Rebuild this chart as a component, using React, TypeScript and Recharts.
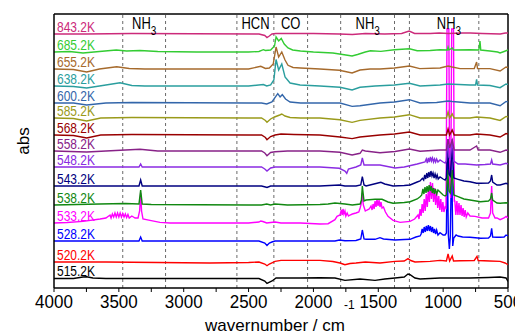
import React from "react";
import {
  LineChart,
  Line,
  XAxis,
  YAxis,
  ReferenceLine,
  ReferenceDot,
  Label,
} from "recharts";

// [wavenumber, offset from trace baseline]
const t843: [number, number][] = [
  [4000, 0], [3750, 0], [3400, 0.5], [2420, 0], [2375, -1.5], [2358, -3.5], [2340, -2], [2320, 0], [2290, 0.5],
  [2000, 0.5], [1800, 0], [1700, -0.5], [1600, 0.5], [1450, 0], [1320, 0.5], [1262, 3], [1220, 0.5], [1100, 0.5],
  [1030, 1], [960, 0.5], [850, 1], [790, 1], [700, 0.5], [560, 0], [520, 1], [500, 1],
];
const t685: [number, number][] = [
  [4000, 0], [3880, 0.5], [3776, -1], [3650, 0.5], [3520, 2], [3440, 1], [3337, 1.5], [3200, 0.5], [2900, 0],
  [2500, 0], [2420, 0.5], [2386, 2.3], [2370, 1.5], [2330, 2], [2300, 6], [2288, 15], [2268, 11], [2248, 13.5],
  [2225, 8], [2196, 4], [2160, 2], [2100, 1], [2000, 0], [1850, -1], [1750, -3], [1702, -4], [1660, -2.5],
  [1600, 0], [1560, 1.2], [1480, 0.6], [1375, 2.2], [1260, 3.3], [1200, 1.2], [1100, 1.5], [1024, 2.3],
  [968, 2], [962, 5], [955, 2], [930, 4], [920, 2], [793, 2.3], [725, 2], [716, 11], [710, 2], [639, 1],
  [580, 0], [561, -1], [530, 0.5], [500, 2],
];
const t655: [number, number][] = [
  [4000, 0], [3850, -0.5], [3748, -3], [3650, 0], [3517, 2.3], [3420, 0.5], [3300, 0], [2500, 0], [2406, 2.7],
  [2370, 0.5], [2340, 1], [2310, 5], [2288, 22], [2268, 12], [2244, 17], [2219, 9], [2196, 3.7], [2157, 1.5],
  [2100, 1], [1950, 0], [1800, -1.3], [1702, -4], [1641, -1], [1564, 0], [1487, 0], [1375, 1], [1260, 3],
  [1180, 0.4], [1024, 1], [962, 3], [930, 2], [870, 0.4], [760, 0.5], [742, 7], [735, 0.5], [639, 0.4],
  [561, -2], [515, 2], [500, 1.5],
];
const t638: [number, number][] = [
  [4000, 0], [3850, -0.5], [3748, -2], [3600, 1], [3491, 3.3], [3400, 0.5], [3300, 0], [2500, 0], [2386, 1.5],
  [2360, 0], [2330, 1], [2305, 6], [2288, 26.5], [2268, 16], [2244, 22], [2219, 9], [2180, 3], [2103, 1],
  [1950, 0], [1795, -1.3], [1702, -4], [1641, -1.3], [1525, 0], [1375, 1], [1260, 2.7], [1178, 0], [1024, 1],
  [962, 2], [793, 1], [750, 1], [742, 6.6], [735, 1], [639, 0.5], [561, -1.7], [515, 2], [500, 1.5],
];
const t600: [number, number][] = [
  [4000, 0], [3850, 0], [3748, -2], [3600, 0], [3400, 0.5], [2500, 0], [2400, 0], [2360, -1], [2320, 1],
  [2275, 9.3], [2257, 6], [2240, 8.3], [2215, 4], [2180, 1], [2100, 0], [1950, 0], [1795, 0], [1702, -3.4],
  [1641, -2.7], [1487, 0], [1375, 1], [1260, 3.3], [1178, 0], [1050, 0.5], [962, 2], [930, 1.5], [793, 0],
  [639, 0], [561, -2.7], [515, 1.6], [500, 1],
];
const t585: [number, number][] = [
  [4000, 0], [3850, -0.5], [3748, -3], [3640, 0], [3400, 0.5], [2500, 0], [2400, 0], [2370, -2.5], [2358, -4.3],
  [2330, -1], [2300, 1], [2260, 3], [2244, 4], [2219, 2], [2180, 0.5], [2100, 0], [1950, 0], [1795, -1.7],
  [1702, -4.4], [1641, -2.4], [1487, 0], [1375, 1], [1260, 3.3], [1178, 0], [975, 0], [962, 6], [950, 0],
  [930, 4], [915, 0], [793, 0], [742, 1], [639, 0], [561, -2.4], [515, 1.6], [500, 1],
];
const t568: [number, number][] = [
  [4000, 0], [3850, -0.5], [3748, -3], [3640, 0], [3400, 0.5], [2500, 0], [2400, 0], [2370, -2.5], [2358, -4.7],
  [2330, -1.5], [2296, 0], [2250, 1], [2150, 0.5], [1950, 0], [1795, -2], [1702, -3.6], [1641, -2], [1487, 0],
  [1375, 1], [1260, 3], [1178, 0], [975, 0], [962, 6], [950, 0], [930, 5], [915, 0], [793, 0], [742, 1],
  [639, 0], [561, -2], [515, 1.4], [500, 1],
];
const t558: [number, number][] = [
  [4000, 0], [3748, -1], [3600, 0], [3337, 1.7], [3200, 0], [2500, 0], [2400, 0], [2375, -2], [2358, -4.7],
  [2330, -1.5], [2296, -0.7], [2200, 0], [1950, 0], [1795, -1.3], [1702, -4], [1641, -2.3], [1623, 1],
  [1600, 0], [1487, -1.7], [1371, -0.5], [1260, 2], [1178, -0.3], [1024, 1], [975, 1], [962, 12], [950, 3],
  [930, 11], [915, 1], [793, 1], [742, 5], [730, 1], [639, 1], [561, -1.3], [515, 1], [500, 0.5],
];
const t548: [number, number][] = [
  [4000, 0], [3600, 0], [3345, 0], [3332, 3], [3320, 0], [2500, 0], [2400, 0], [2375, -2], [2358, -4],
  [2330, -1], [2296, 0], [1950, 0], [1800, -1.3], [1757, -4], [1743, -6.3], [1730, -2], [1672, 0], [1635, 2],
  [1623, 9], [1610, 2], [1564, 2], [1487, 2], [1371, -1], [1300, 0], [1200, 3], [1140, 5], [1130, 8],
  [1122, 4], [1114, 9], [1106, 5], [1098, 10], [1090, 6], [1082, 9], [1074, 5], [1066, 8], [1058, 5],
  [1050, 8], [1040, 5], [1024, 7], [1000, 5], [985, 4], [975, 6], [965, 28], [955, 10], [945, 8], [930, 28],
  [918, 6], [885, 3], [831, 3], [742, 2], [677, 2.5], [635, 3], [626, 7], [618, 3], [561, 2], [515, 3.7],
  [500, 3],
];
const t543: [number, number][] = [
  [4000, 0], [3600, 0], [3345, 0], [3332, 6], [3320, 0], [2500, 0], [2400, 0], [2370, -1], [2358, -1.5],
  [2330, 0], [1950, 0], [1800, 1], [1757, 0], [1672, 0], [1635, 1], [1623, 9.3], [1610, 1], [1594, 0],
  [1510, 2.7], [1480, 3.7], [1450, 2], [1386, 0], [1300, 0.5], [1255, 1], [1200, 4], [1178, 5], [1160, 7.7],
  [1150, 6], [1142, 11], [1134, 7], [1126, 13], [1118, 8], [1110, 14], [1102, 9], [1094, 15], [1086, 10],
  [1078, 13], [1070, 8], [1062, 12], [1054, 8], [1046, 11], [1038, 7], [1024, 9], [1000, 7], [985, 6],
  [975, 8], [965, 40], [955, 12], [945, 10], [930, 40], [918, 8], [885, 6.7], [840, 5], [793, 4.3],
  [742, 2.7], [712, 2.7], [650, 3], [635, 5], [626, 11], [618, 4], [585, 1], [561, 1], [515, 2.7], [500, 2],
];
const t538: [number, number][] = [
  [4000, 0], [3650, 1], [3450, 1.5], [3345, 1], [3332, 15], [3320, 1], [3250, 0.5], [2500, 0], [2400, 0],
  [2360, 1], [2330, 0], [2296, 1], [2200, 0], [1950, 0.5], [1887, 1], [1834, 2], [1757, 1], [1700, 0],
  [1640, 1], [1630, 5], [1623, 19], [1610, 4], [1594, 5], [1525, 5.7], [1471, 5.7], [1425, 3], [1386, 1.7],
  [1300, 2.5], [1255, 3.3], [1200, 6], [1178, 8.3], [1165, 10], [1156, 16], [1148, 11], [1140, 18],
  [1132, 12], [1124, 19], [1116, 13], [1108, 20], [1100, 14], [1092, 19], [1084, 12], [1076, 17], [1068, 11],
  [1060, 16], [1050, 11], [1040, 15], [1024, 13], [1000, 10], [985, 9], [975, 10], [965, 35], [955, 14],
  [945, 12], [930, 35], [918, 10], [885, 8.3], [840, 6], [793, 5], [712, 3.3], [650, 4], [635, 6], [626, 12],
  [618, 5], [585, 2], [561, 1.7], [515, 2.3], [500, 2],
];
const t533: [number, number][] = [
  [4000, 0], [3900, 0.5], [3776, 1.6], [3645, 4], [3600, 5], [3568, 8], [3560, 5], [3550, 9], [3540, 6],
  [3530, 10], [3520, 6], [3510, 10], [3500, 6], [3490, 10], [3480, 6], [3470, 9.5], [3460, 6], [3450, 9],
  [3440, 5.5], [3430, 8.5], [3420, 5], [3400, 7], [3375, 5], [3352, 5], [3340, 12], [3332, 30], [3325, 12],
  [3314, 4], [3260, 2.6], [3183, 0.6], [3106, 0], [2500, 0], [2420, 1], [2406, 2], [2390, 1.5], [2360, 0],
  [2330, 0.5], [2296, 1], [2250, 0], [2100, 0], [1949, -1], [1887, -0.7], [1834, 3.3], [1818, 6.7],
  [1795, 8], [1785, 13], [1778, 8], [1772, 14], [1765, 9], [1757, 12], [1750, 7], [1740, 10], [1730, 7],
  [1718, 8], [1700, 9], [1672, 10], [1650, 11], [1640, 15], [1630, 20], [1623, 30], [1615, 18], [1600, 12],
  [1587, 13], [1570, 14], [1556, 17], [1548, 13], [1540, 19], [1532, 14], [1525, 22], [1517, 16], [1510, 24],
  [1502, 17], [1494, 23], [1487, 16], [1479, 21], [1471, 15], [1460, 16], [1445, 11], [1425, 6.6],
  [1386, 2.6], [1332, 0.6], [1255, 1.6], [1220, 4], [1194, 8], [1186, 4], [1178, 14], [1170, 7], [1162, 19],
  [1154, 10], [1146, 24], [1138, 12], [1130, 29], [1122, 16], [1114, 34], [1106, 21], [1098, 41], [1090, 24],
  [1082, 40], [1074, 21], [1066, 35], [1058, 18], [1050, 31], [1042, 15], [1034, 27], [1026, 13], [1018, 24],
  [1010, 11], [1002, 21], [994, 11], [985, 16], [978, 15], [970, 194], [956, 194], [950, 40], [942, 25],
  [934, 194], [920, 194], [914, 22], [910, 22], [902, 8], [894, 22], [886, 8], [878, 20], [870, 8], [862, 18],
  [854, 7], [846, 15], [838, 6], [830, 13], [822, 6], [810, 10], [793, 7], [754, 6.6], [700, 5], [650, 5],
  [635, 10], [626, 37], [618, 10], [600, 5], [585, 5], [561, 3.3], [530, 5], [515, 6.6], [500, 5],
];
const t528: [number, number][] = [
  [4000, 0], [3600, 0], [3345, 0], [3332, 4], [3320, 0], [2500, 0], [2420, 0], [2375, -2], [2358, -4.5],
  [2340, -2], [2320, -1], [2296, 0], [2000, 0], [1834, 0], [1800, 1], [1757, 0.3], [1672, 0.5], [1635, 2],
  [1623, 11], [1610, 2], [1594, 1.7], [1525, 1.7], [1487, 3.3], [1460, 2], [1371, 1], [1300, 1.5],
  [1255, 1.7], [1210, 4], [1178, 5], [1170, 7], [1162, 12], [1154, 8], [1146, 14], [1138, 9], [1130, 15],
  [1122, 10], [1114, 16], [1106, 10], [1098, 15], [1090, 9], [1082, 14], [1074, 8], [1066, 12], [1058, 7],
  [1050, 11], [1040, 6], [1024, 8.3], [1000, 6], [985, 6], [975, 8], [968, 90], [960, 6], [952, -8],
  [945, 4], [934, 90], [926, -5], [918, 3], [900, 6], [885, 5], [850, 4], [793, 3.7], [712, 2.7], [650, 3],
  [635, 5], [626, 12.7], [618, 4], [585, 3.7], [561, 3.7], [530, 4], [515, 6], [500, 5],
];
const t520: [number, number][] = [
  [4000, 0], [3600, 0], [3200, -0.5], [2800, -1], [2500, -0.5], [2420, 0], [2375, -2], [2358, -3.7],
  [2340, -2], [2296, 0.6], [2250, 1.6], [2100, 1.6], [1949, 1.6], [1850, 0.5], [1795, -1], [1757, -2.7],
  [1718, -1.5], [1672, -1], [1600, 0], [1487, -1], [1371, 0.6], [1300, 1], [1271, 3.3], [1250, 1.5],
  [1217, 0], [1101, 0.6], [1024, 1.6], [975, 1], [962, 8], [950, 1], [930, 6], [920, 1], [870, 1.3],
  [760, 1.5], [739, 5.6], [730, 1.5], [639, 1], [561, 0.6], [523, -1], [500, -2.7],
];
const t515: [number, number][] = [
  [4000, -0.5], [3850, -0.5], [3776, 1], [3748, 1.2], [3700, 0], [3600, -0.5], [2600, -0.5], [2420, -0.5],
  [2375, -3], [2358, -5.5], [2319, -3], [2288, 0], [2103, 0], [1949, 0.3], [1834, 0], [1757, -2.4],
  [1641, -1], [1525, -2.4], [1450, -1], [1371, 0], [1300, 1], [1271, 4], [1255, 3.3], [1217, 0], [1178, -1],
  [1024, 0], [793, 0], [650, 0.5], [561, 1], [515, 0], [500, -3.4],
];

const names = [
  "843.2K", "685.2K", "655.2K", "638.2K", "600.2K", "585.2K", "568.2K", "558.2K",
  "548.2K", "543.2K", "538.2K", "533.2K", "528.2K", "520.2K", "515.2K",
];
const offsets = [254, 236, 219, 202, 185, 170, 153, 137, 121, 102, 83, 65, 47, 26, 10];
const colors = [
  "#cc2a7a", "#33cc33", "#a66a2c", "#2a9e9e", "#3366aa", "#9a9a1a", "#990000", "#882288",
  "#8a2be2", "#000080", "#118811", "#ff00ff", "#0000ff", "#ff0000", "#000000",
];
const profiles = [t843, t685, t655, t638, t600, t585, t568, t558, t548, t543, t538, t533, t528, t520, t515];

const dashedLines = [3470, 3140, 2590, 2305, 2045, 1790, 1375, 1260, 725];
const bands = [
  { wn: 3305, main: "NH", sub: "3" },
  { wn: 2447, main: "HCN", sub: "" },
  { wn: 2175, main: "CO", sub: "" },
  { wn: 1582, main: "NH", sub: "3" },
  { wn: 955, main: "NH", sub: "3" },
];
const xTicks = [4000, 3750, 3500, 3250, 3000, 2750, 2500, 2250, 2000, 1750, 1500, 1250, 1000, 750, 500];

const FONT = '"Liberation Sans", Arial, sans-serif';

const series = names.map((name, i) => ({
  name,
  color: colors[i],
  offset: offsets[i],
  data: profiles[i].map(([wn, d]) => ({ wn, v: offsets[i] + d })),
}));

const XTick = (p: any) => {
  const v = p.payload.value;
  if (v % 500 !== 0) return <g />;
  return (
    <g transform={`translate(${p.x},${p.y}) scale(1,1.1)`}>
      <text x={0} y={13} textAnchor="middle" fontSize={17} fontFamily={FONT} fill="#000">
        {v}
      </text>
    </g>
  );
};

const XLabel = (p: any) => {
  const vb = p.viewBox;
  const cx = vb.x + vb.width / 2 - 6;
  return (
    <g fontFamily={FONT} fill="#000">
      <text x={cx} y={vb.y + 43} textAnchor="middle" fontSize={17}>
        wavernumber / cm
      </text>
      <text x={cx + 69} y={vb.y + 21} fontSize={12}>
        -1
      </text>
    </g>
  );
};

const YLabel = () => (
  <text
    transform="translate(15,133) rotate(-90)"
    textAnchor="middle"
    dy="0.35em"
    fontSize={17}
    fontFamily={FONT}
    fill="#000"
  >
    abs
  </text>
);

export default function App() {
  return (
    <LineChart width={515} height={328} margin={{ top: 6, right: 15, left: 0, bottom: 0 }}>
      <XAxis
        dataKey="wn"
        type="number"
        domain={[500, 4000]}
        reversed
        ticks={xTicks}
        tick={XTick}
        tickSize={4}
        tickMargin={2}
        interval={0}
        height={48}
        axisLine={{ stroke: "#000", strokeWidth: 1.5 }}
        tickLine={{ stroke: "#000" }}
        allowDataOverflow
      >
        <Label content={XLabel} />
      </XAxis>
      <YAxis
        type="number"
        domain={[0, 274]}
        width={46}
        tick={false}
        tickLine={false}
        axisLine={{ stroke: "#000", strokeWidth: 1.5 }}
        allowDataOverflow
      >
        <Label content={YLabel} />
      </YAxis>
      {dashedLines.map((x) => (
        <ReferenceLine key={x} x={x} stroke="#444" strokeDasharray="3 3" strokeWidth={0.8} />
      ))}
      <ReferenceLine y={274} stroke="#000" strokeWidth={1.5} />
      <ReferenceLine x={500} stroke="#000" strokeWidth={1.5} />
      {[...series].reverse().map((s) => (
        <Line
          key={s.name}
          data={s.data}
          dataKey="v"
          type="linear"
          stroke={s.color}
          strokeWidth={1.4}
          dot={false}
          activeDot={false}
          isAnimationActive={false}
        />
      ))}
      {series.map((s) => (
        <ReferenceDot
          key={"lab" + s.name}
          x={4000}
          y={s.offset}
          r={0}
          shape={(p: any) => (
            <g transform={`translate(${p.cx + 3},${p.cy - 2}) scale(1,1.2)`}>
              <text x={0} y={0} fontSize={12} fontFamily={FONT} fill={s.color}>
                {s.name}
              </text>
            </g>
          )}
        />
      ))}
      {bands.map((b) => (
        <ReferenceDot
          key={"band" + b.main + b.wn}
          x={b.wn}
          y={259}
          r={0}
          shape={(p: any) => (
            <g transform={`translate(${p.cx},${p.cy}) scale(1,1.2)`}>
              <text x={0} y={0} textAnchor="middle" fontSize={13} fontFamily={FONT} fill="#000">
                {b.main}
                {b.sub && (
                  <tspan fontSize={10} dy={5}>
                    {b.sub}
                  </tspan>
                )}
              </text>
            </g>
          )}
        />
      ))}
    </LineChart>
  );
}
